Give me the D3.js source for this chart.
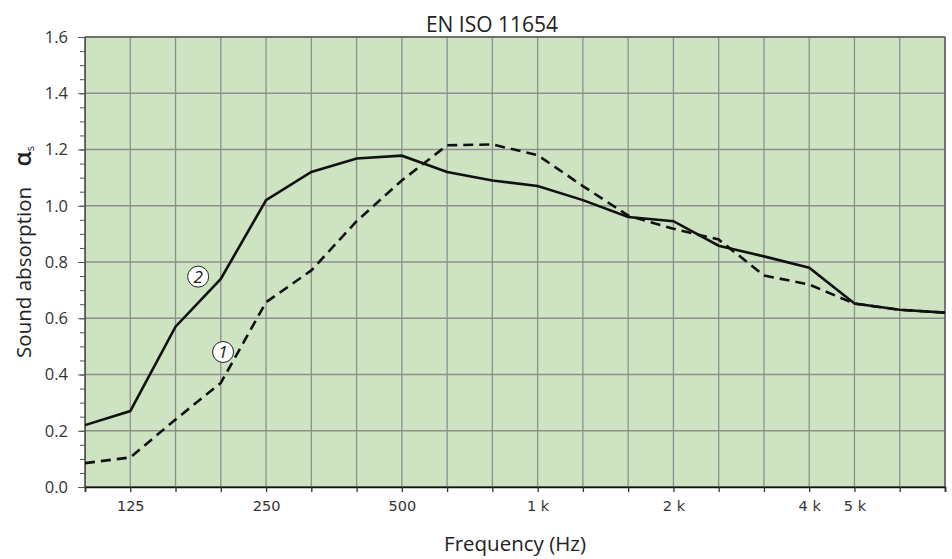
<!DOCTYPE html>
<html>
<head>
<meta charset="utf-8">
<script src="https://cdn.jsdelivr.net/npm/d3@7"></script>
<style>
  body { margin: 0; background: #fff; }
  svg { display: block; }
  .tick text { fill: #333; }
</style>
</head>
<body>
<svg id="chart" width="952" height="559"></svg>
<script>
// Third-octave bands (Hz)
const bands = [100, 125, 160, 200, 250, 315, 400, 500, 630, 800,
  1000, 1250, 1600, 2000, 2500, 3150, 4000, 5000, 6300, 8000];
const bandLabels = { 125: '125', 250: '250', 500: '500', 1000: '1 k', 2000: '2 k', 4000: '4 k', 5000: '5 k' };

// Sound absorption curves
const curve1 = [0.085, 0.105, 0.24, 0.37, 0.657, 0.77, 0.945, 1.09, 1.215, 1.218,
  1.18, 1.07, 0.965, 0.918, 0.88, 0.752, 0.72, 0.652, 0.63, 0.62];
const curve2 = [0.22, 0.27, 0.57, 0.74, 1.02, 1.12, 1.168, 1.178, 1.12, 1.09,
  1.07, 1.02, 0.96, 0.945, 0.858, 0.82, 0.78, 0.652, 0.63, 0.62];

const yMajor = [0, 0.2, 0.4, 0.6, 0.8, 1.0, 1.2, 1.4, 1.6];
const yMinor = d3.range(0, 33).map(i => i * 0.05);

// Curve labels: band position (fractional index) and value
const markers = [
  { text: '2', band: 2.5, value: 0.748 },
  { text: '1', band: 3.05, value: 0.48 },
];

const margin = { top: 37, right: 7, bottom: 72, left: 85 };
const width = 952, height = 559;

const svg = d3.select('#chart');

const x = d3.scalePoint()
  .domain(bands)
  .range([margin.left, width - margin.right]);

const y = d3.scaleLinear()
  .domain([0, 1.6])
  .range([height - margin.bottom, margin.top]);

const xIdx = i => margin.left + i * x.step();

// Background
svg.append('rect')
  .attr('x', margin.left)
  .attr('y', margin.top)
  .attr('width', x.range()[1] - margin.left)
  .attr('height', y(0) - margin.top)
  .attr('fill', '#cde3c1');

// Grid
const grid = svg.append('g').attr('stroke', '#8e8e8e').attr('stroke-width', 1.3);
grid.selectAll('.v')
  .data(bands)
  .join('line')
  .attr('x1', d => x(d)).attr('x2', d => x(d))
  .attr('y1', margin.top).attr('y2', y(0));
grid.selectAll('.h')
  .data(yMajor)
  .join('line')
  .attr('x1', margin.left).attr('x2', x.range()[1])
  .attr('y1', d => y(d)).attr('y2', d => y(d));

// Frame
svg.append('rect')
  .attr('x', margin.left)
  .attr('y', margin.top)
  .attr('width', x.range()[1] - margin.left)
  .attr('height', y(0) - margin.top)
  .attr('fill', 'none')
  .attr('stroke', '#555')
  .attr('stroke-width', 1.3);

// Y axis: minor then major ticks
svg.append('g')
  .attr('transform', `translate(${margin.left},0)`)
  .call(d3.axisLeft(y).tickValues(yMinor).tickSize(5).tickFormat(''))
  .call(g => g.select('.domain').remove())
  .call(g => g.selectAll('line').attr('stroke', '#555'));

svg.append('g')
  .attr('transform', `translate(${margin.left},0)`)
  .call(d3.axisLeft(y).tickValues(yMajor).tickSize(7).tickPadding(10).tickFormat(d3.format('.1f')))
  .call(g => g.select('.domain').attr('stroke', '#555'))
  .call(g => g.selectAll('line').attr('stroke', '#555'))
  .call(g => g.selectAll('text')
    .attr('font-family', 'Open Sans, sans-serif')
    .attr('font-size', 16.5));

// X axis
svg.append('g')
  .attr('transform', `translate(0,${y(0)})`)
  .call(d3.axisBottom(x).tickSize(5).tickPadding(9).tickFormat(d => bandLabels[d] || ''))
  .call(g => g.select('.domain').attr('stroke', '#111').attr('stroke-width', 1.6))
  .call(g => g.selectAll('line').attr('stroke', '#333').attr('stroke-width', 1.3))
  .call(g => g.selectAll('text')
    .attr('font-family', 'DejaVu Sans, sans-serif')
    .attr('font-size', 14.5));

// Curves
const line = d3.line()
  .x((d, i) => x(bands[i]))
  .y(d => y(d));

svg.append('path')
  .datum(curve1)
  .attr('d', line)
  .attr('fill', 'none')
  .attr('stroke', '#111')
  .attr('stroke-width', 2.6)
  .attr('stroke-dasharray', '10,6');

svg.append('path')
  .datum(curve2)
  .attr('d', line)
  .attr('fill', 'none')
  .attr('stroke', '#111')
  .attr('stroke-width', 2.6);

// Curve markers
const mk = svg.append('g').selectAll('g')
  .data(markers)
  .join('g')
  .attr('transform', d => `translate(${xIdx(d.band)},${y(d.value)})`);
mk.append('circle')
  .attr('r', 10.5)
  .attr('fill', '#fff')
  .attr('stroke', '#222')
  .attr('stroke-width', 1);
mk.append('text')
  .attr('text-anchor', 'middle')
  .attr('dy', '0.36em')
  .attr('font-family', 'Open Sans, sans-serif')
  .attr('font-style', 'italic')
  .attr('font-size', 17)
  .attr('fill', '#222')
  .text(d => d.text);

// Title and axis labels
svg.append('text')
  .attr('x', 492)
  .attr('y', 32)
  .attr('text-anchor', 'middle')
  .attr('font-family', 'Open Sans, sans-serif')
  .attr('font-size', 21)
  .attr('fill', '#222')
  .text('EN ISO 11654');

svg.append('text')
  .attr('x', (margin.left + x.range()[1]) / 2)
  .attr('y', 551)
  .attr('text-anchor', 'middle')
  .attr('font-family', 'Open Sans, sans-serif')
  .attr('font-size', 20.5)
  .attr('fill', '#222')
  .text('Frequency (Hz)');

const yl = svg.append('text')
  .attr('transform', 'translate(31,252) rotate(-90)')
  .attr('text-anchor', 'middle')
  .attr('font-family', 'Open Sans, sans-serif')
  .attr('font-size', 20.5)
  .attr('fill', '#222');
yl.append('tspan').text('Sound absorption\u2003');
yl.append('tspan').attr('font-size', 24).attr('font-weight', 600).text('α');
yl.append('tspan').attr('font-size', 11).attr('dy', 3).text('s');
</script>
</body>
</html>
